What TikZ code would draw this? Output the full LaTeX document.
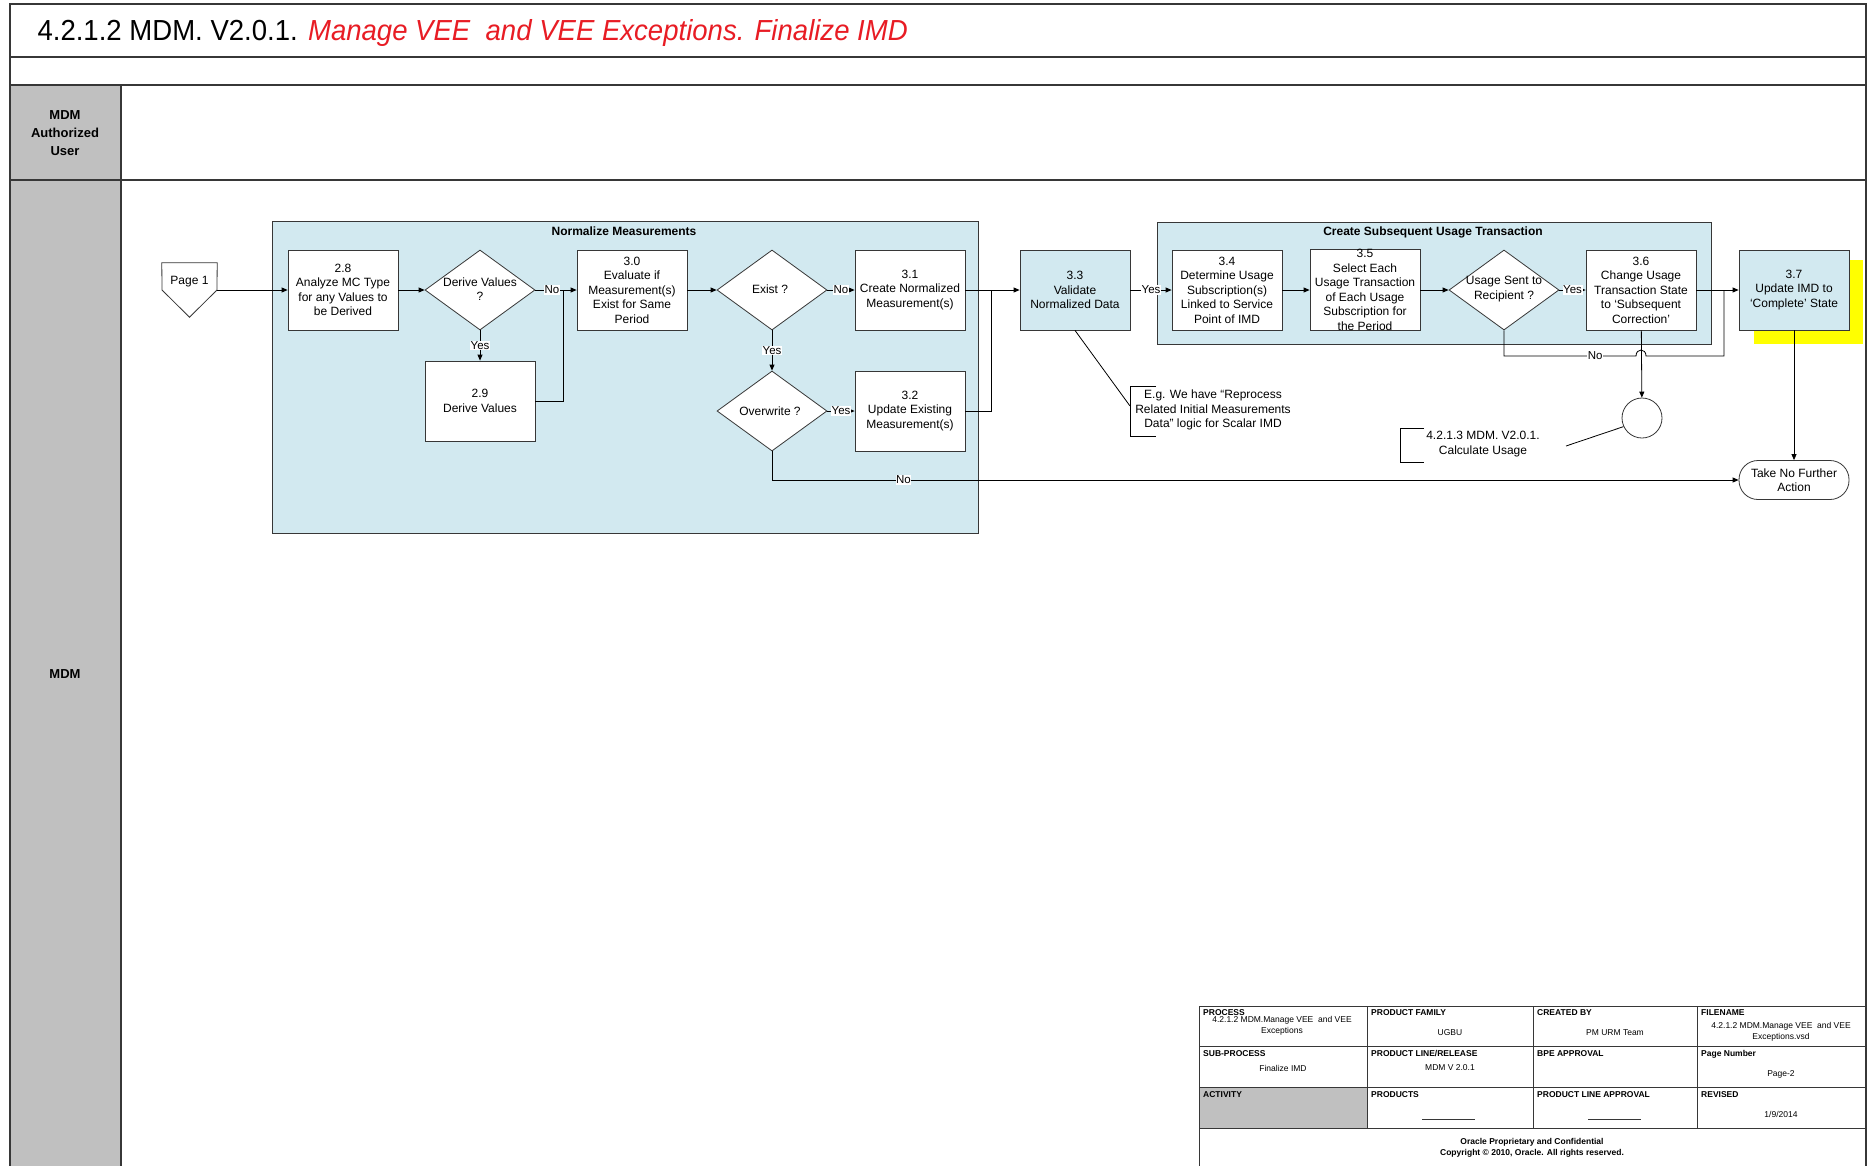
\documentclass[tikz,border=0pt]{standalone}
\usepackage{fontspec}
\setmainfont{Liberation Sans}
\usetikzlibrary{shapes.geometric,arrows.meta}
\definecolor{grpblue}{RGB}{210,233,240}
\definecolor{lanegray}{RGB}{192,192,192}
\definecolor{linegray}{RGB}{55,55,55}
\definecolor{titlered}{RGB}{232,28,36}
\definecolor{hiyellow}{RGB}{255,255,0}

\begin{document}
\begin{tikzpicture}[x=1pt,y=-1pt,
  every node/.style={font=\fontsize{12}{14.5}\selectfont, align=center},
  stepbox/.style={draw=linegray, line width=0.8pt, fill=white, minimum width=110pt, minimum height=80pt, inner sep=0pt},
  bluebox/.style={stepbox, fill=grpblue},
  decision/.style={draw=linegray, line width=0.8pt, fill=white, diamond, aspect=1.375, minimum width=110pt, minimum height=80pt, inner sep=0pt},
  dtext/.style={inner sep=0pt},
  flow/.style={draw=black, line width=0.8pt, -{Triangle[length=6pt,width=5pt]}},
  plain/.style={draw=black, line width=0.8pt},
  lbl/.style={fill=white, inner sep=0.6pt, font=\fontsize{11.5}{12}\selectfont},
  group/.style={draw=linegray, line width=1pt, fill=grpblue, inner sep=0pt},
  grouptitle/.style={font=\bfseries\fontsize{12}{14}\selectfont},
  lanehead/.style={font=\bfseries\fontsize{13}{18}\selectfont},
  tblhead/.style={anchor=north west, inner sep=0pt, font=\bfseries\fontsize{8.5}{10}\selectfont},
  tblval/.style={inner sep=0pt, font=\fontsize{8.5}{11}\selectfont},
]
\useasboundingbox (0,0) rectangle (1873,1165);
\fill[white] (0,0) rectangle (1873,1165);

% ---- frame, title row and swimlanes ----
\fill[lanegray] (10,85) rectangle (121,1170);
\draw[linegray, line width=1.4pt] (10,4) rectangle (1866,1175);
\draw[linegray, line width=1.2pt] (10,57) -- (1866,57);
\draw[linegray, line width=1.2pt] (10,85) -- (1866,85);
\draw[linegray, line width=1.2pt] (10,180) -- (1866,180);
\draw[linegray, line width=1.2pt] (121,85) -- (121,1175);
\node[anchor=west, font=\fontsize{29}{34}\selectfont] (title) at (34,33)
  {\scalebox{0.95}[1]{4.2.1.2 MDM. V2.0.1. \textcolor{titlered}{\itshape Manage VEE\ \ and VEE Exceptions. Finalize IMD}}};
\node[lanehead] (laneA) at (65,133) {MDM\\Authorized\\User};
\node[lanehead] (laneB) at (65,674) {MDM};

% ---- sub-process groups ----
\node[group, anchor=north west, minimum width=706pt, minimum height=312pt] (grpNorm) at (272,221) {};
\node[grouptitle] (grpNormT) at (624,231) {Normalize Measurements};
\node[group, anchor=north west, minimum width=554pt, minimum height=122pt] (grpUsage) at (1157,222) {};
\node[grouptitle] (grpUsageT) at (1433,232) {Create Subsequent Usage Transaction};

% ---- highlight behind 3.7 ----
\fill[hiyellow] (1754,260) rectangle (1863,344);

% ---- off-page connector ----
\node[minimum width=55pt, minimum height=54pt, inner sep=0pt] (page1) at (189.5,290) {};
\draw[linegray, line width=0.8pt, fill=white] (page1.north west) -- (page1.north east) -- (217,290) -- (page1.south) -- (162,290) -- cycle;
\node (page1T) at (189.5,282) {Page 1};

% ---- steps ----
\node[stepbox] (n28) at (343,290) {2.8\\Analyze MC Type\\for any Values to\\be Derived};
\node[decision] (d1) at (480,290) {};
\node[dtext] (d1t) at (480,289) {Derive Values\\?};
\node[stepbox] (n29) at (480,401) {2.9\\Derive Values};
\node[stepbox] (n30) at (632,290) {3.0\\Evaluate if\\Measurement(s)\\Exist for Same\\Period};
\node[decision] (d2) at (772,290) {};
\node[dtext] (d2t) at (770,289) {Exist ?};
\node[stepbox] (n31) at (910,290) {3.1\\Create Normalized\\Measurement(s)};
\node[decision] (d3) at (772,411) {};
\node[dtext] (d3t) at (770,411) {Overwrite ?};
\node[stepbox] (n32) at (910,411) {3.2\\Update Existing\\Measurement(s)};
\node[bluebox] (n33) at (1075,290) {3.3\\Validate\\Normalized Data};
\node[stepbox] (n34) at (1227,290) {3.4\\Determine Usage\\Subscription(s)\\Linked to Service\\Point of IMD};
\node[stepbox] (n35) at (1365,290) {3.5\\Select Each\\Usage Transaction\\of Each Usage\\Subscription for\\the Period};
\node[decision] (d4) at (1504,290) {};
\node[dtext] (d4t) at (1504,289) {Usage Sent to\\Recipient ?};
\node[stepbox] (n36) at (1641,290) {3.6\\Change Usage\\Transaction State\\to ‘Subsequent\\Correction’};
\node[bluebox] (n37) at (1794,290) {3.7\\Update IMD to\\‘Complete’ State};
\node[draw=linegray, line width=0.8pt, fill=white, rounded corners=19pt, minimum width=110pt, minimum height=39pt, inner sep=0pt] (endT) at (1794,480) {Take No Further\\Action};
\node[draw=linegray, line width=0.8pt, fill=white, circle, minimum size=40pt, inner sep=0pt] (circ) at (1642,418) {};

% ---- annotations ----
\node (noteA) at (1213,410) {E.g. We have “Reprocess\\Related Initial Measurements\\Data” logic for Scalar IMD};
\coordinate (noteAhook) at (1130,406);
\draw[plain] (1156,386) -- (1130,386) -- (1130,436) -- (1156,436);
\draw[plain] (n33.south) -- (noteAhook);
\node (noteB) at (1483,444) {4.2.1.3 MDM. V2.0.1.\\Calculate Usage};
\coordinate (noteBhook) at (1566,446);
\draw[plain] (1424,428) -- (1400,428) -- (1400,462) -- (1424,462);
\draw[plain] (noteBhook) -- (circ.205);

% ---- connectors ----
\coordinate (j1) at (563,290);
\coordinate (j2) at (991,290);
\coordinate (j3) at (1724,290);
\draw[flow] (page1.east) -- (n28);
\draw[flow] (n28) -- (d1);
\draw[flow] (d1) -- node[lbl, pos=0.4] (lNo1) {No} (n30);
\draw[flow] (d1) -- node[lbl] (lYes1) {Yes} (n29);
\draw[plain] (n29.east) -| (j1);
\draw[flow] (n30) -- (d2);
\draw[flow] (d2) -- node[lbl] (lNo2) {No} (n31);
\draw[flow] (d2) -- node[lbl] (lYes2) {Yes} (d3);
\draw[flow] (d3) -- node[lbl] (lYes3) {Yes} (n32);
\draw[flow] (n31) -- (n33);
\draw[plain] (n32.east) -| (j2);
\draw[flow] (d3.south) |- node[lbl, pos=0.568] (lNo3) {No} (endT.west);
\draw[flow] (n33) -- node[lbl] (lYes4) {Yes} (n34);
\draw[flow] (n34) -- (n35);
\draw[flow] (n35) -- (d4);
\draw[flow] (d4) -- node[lbl] (lYes5) {Yes} (n36);
\draw[flow] (n36) -- (n37);
\draw[flow] (n36) -- (circ);
\draw[flow] (n37) -- (endT);
\draw[plain] (d4.south) -- (1504,356) -- node[lbl, pos=0.69] (lNo4) {No} (1636,356)
  .. controls (1636,348) and (1646,348) .. (1646,356) -- (1724,356) -- (j3);

% ---- title block ----
\fill[lanegray] (1199,1087) rectangle (1367,1128);
\draw[linegray, line width=0.9pt] (1199,1006) rectangle (1866,1175);
\foreach \yy in {1046,1087,1128} \draw[linegray, line width=0.9pt] (1199,\yy) -- (1866,\yy);
\foreach \xx in {1367,1533,1697} \draw[linegray, line width=0.9pt] (\xx,1006) -- (\xx,1128);
\node[tblhead] (hProc) at (1203,1009) {PROCESS};
\node[tblhead] (hFam) at (1371,1009) {PRODUCT FAMILY};
\node[tblhead] (hBy) at (1537,1009) {CREATED BY};
\node[tblhead] (hFile) at (1701,1009) {FILENAME};
\node[tblhead] (hSub) at (1203,1050) {SUB-PROCESS};
\node[tblhead] (hLine) at (1371,1050) {PRODUCT LINE/RELEASE};
\node[tblhead] (hBpe) at (1537,1050) {BPE APPROVAL};
\node[tblhead] (hPage) at (1701,1050) {Page Number};
\node[tblhead] (hAct) at (1203,1091) {ACTIVITY};
\node[tblhead] (hProd) at (1371,1091) {PRODUCTS};
\node[tblhead] (hPla) at (1537,1091) {PRODUCT LINE APPROVAL};
\node[tblhead] (hRev) at (1701,1091) {REVISED};
\node[tblval] (vProc) at (1282,1026) {4.2.1.2 MDM.Manage VEE\ \ and VEE\\Exceptions};
\node[tblval] (vFam) at (1450,1033) {UGBU};
\node[tblval] (vBy) at (1615,1033) {PM URM Team};
\node[tblval] (vFile) at (1781,1032) {4.2.1.2 MDM.Manage VEE\ \ and VEE\\Exceptions.vsd};
\node[tblval] (vSub) at (1283,1068) {Finalize IMD};
\node[tblval] (vLine) at (1450,1068) {MDM V 2.0.1};
\node[tblval] (vPage) at (1781,1074) {Page-2};
\node[tblval] (vRev) at (1781,1114) {1/9/2014};
\draw[linegray, line width=0.6pt] (1422,1119) -- (1475,1119);
\draw[linegray, line width=0.6pt] (1588,1119) -- (1641,1119);
\node[tblval, font=\bfseries\fontsize{8.5}{11}\selectfont] (vConf) at (1532,1148) {Oracle Proprietary and Confidential\\Copyright © 2010, Oracle. All rights reserved.};
\end{tikzpicture}
\end{document}
